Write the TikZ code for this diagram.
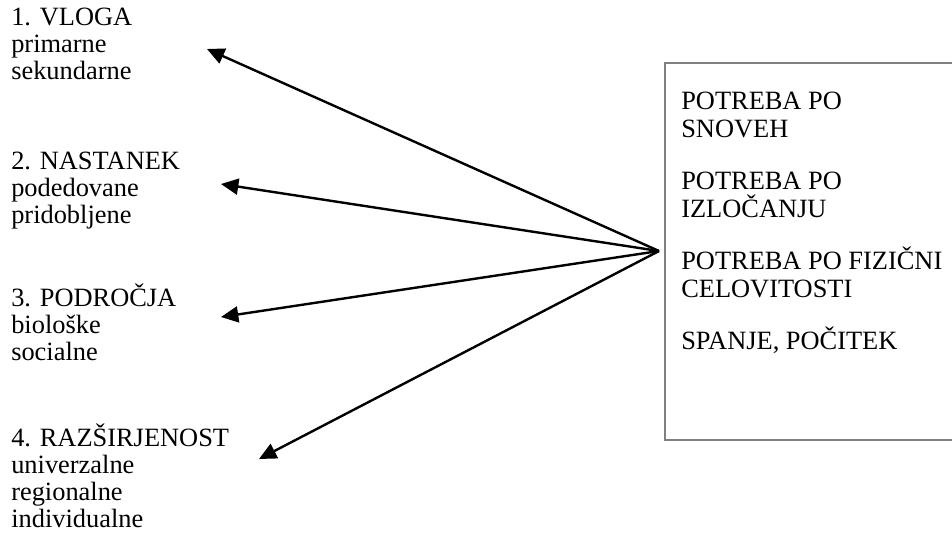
\documentclass[tikz,border=0pt]{standalone}
\usepackage{fontspec}
\setmainfont{Liberation Serif}
\usetikzlibrary{arrows.meta}
\begin{document}
\begin{tikzpicture}[x=0.75pt,y=-0.75pt,
  lbl/.style={anchor=base west, inner sep=0pt, align=left, font=\fontsize{19.8}{20.25}\selectfont},
  conn/.style={line width=1.8pt, -{Triangle[length=13pt,width=12pt]}},
  frame/.style={draw=gray, line width=1.5pt, anchor=north west, inner sep=0pt, minimum width=300pt, minimum height=282.75pt}]
\useasboundingbox (0,0) rectangle (952,540);
\clip (0,0) rectangle (952,540);
% base anchor of a multi-line node lies on its last line
\node[lbl] (g1) at (11,79) {1. VLOGA\\primarne\\sekundarne};
\node[lbl] (g2) at (11,223) {2. NASTANEK\\podedovane\\pridobljene};
\node[lbl] (g3) at (11,360) {3. PODROČJA\\biološke\\socialne};
\node[lbl] (g4) at (11,527) {4. RAZŠIRJENOST\\univerzalne\\regionalne\\individualne};
\node[frame] (box) at (664,62) {};
\node[lbl, font=\fontsize{19.8}{21}\selectfont] (needs) at (681,349) {POTREBA PO\\SNOVEH\\[18pt]POTREBA PO\\IZLOČANJU\\[18pt]POTREBA PO FIZIČNI\\CELOVITOSTI\\[18pt]SPANJE, POČITEK};
\coordinate (hub) at (659,251);
\coordinate (t1) at (207,49);
\coordinate (t2) at (221,184);
\coordinate (t3) at (221,317);
\coordinate (t4) at (259,459);
\draw[conn] (hub) -- (t1);
\draw[conn] (hub) -- (t2);
\draw[conn] (hub) -- (t3);
\draw[conn] (hub) -- (t4);
\end{tikzpicture}
\end{document}
